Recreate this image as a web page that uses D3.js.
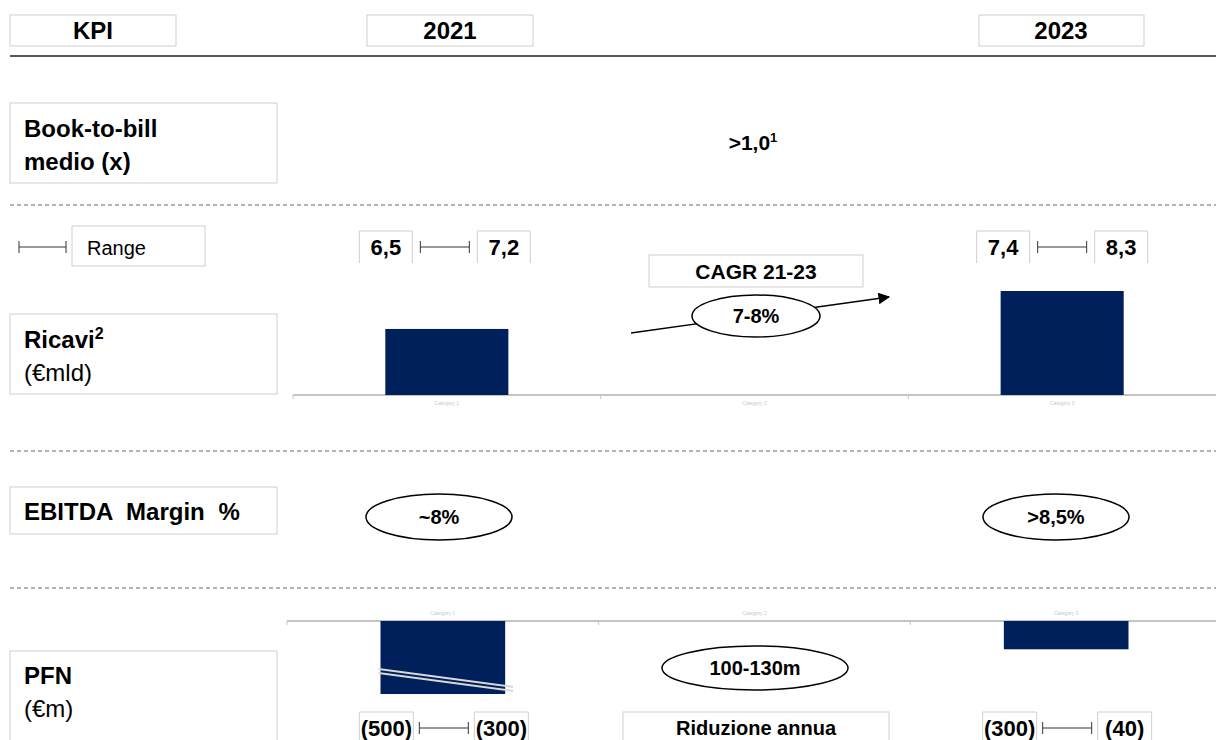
<!DOCTYPE html>
<html>
<head>
<meta charset="utf-8">
<script src="https://cdn.jsdelivr.net/npm/d3@7"></script>
<style>
  body { margin: 0; background: #fff; }
  svg { display: block; font-family: "Liberation Sans", Arial, sans-serif; }
</style>
</head>
<body>
<div id="chart"></div>
<script>
// KPI table 2021 -> 2023

// data
var years = ['2021', '2023'];
var kpiLabels = ['Book-to-bill', 'medio (x)', 'Ricavi', '(€mld)', 'EBITDA Margin %', 'PFN', '(€m)'];
var bookToBill = '>1,0';
var categories = ['Category 1', 'Category 2', 'Category 3'];
var revenueValues = [6.85, null, 7.85];
var revenueRanges = [['6,5', '7,2'], ['7,4', '8,3']];
var cagrLabel = 'CAGR 21-23';
var cagrValue = '7-8%';
var ebitdaValues = ['~8%', '>8,5%'];
var pfnValues = [-400, null, -155];
var pfnRanges = [['(500)', '(300)'], ['(300)', '(40)']];
var pfnReduction = '100-130m';
var pfnReductionLabel = 'Riduzione annua';

var width = 1216, height = 740;
var navy = '#00205b';
var boxStroke = '#cfcfcf';

var svg = d3.select('#chart').append('svg')
  .attr('width', width)
  .attr('height', height);

// helpers
function box(x, y, w, h, openBottom) {
  if (openBottom) {
    svg.append('path')
      .attr('d', 'M' + x + ',' + (y + h) + 'V' + y + 'H' + (x + w) + 'V' + (y + h))
      .attr('fill', '#fff').attr('stroke', boxStroke);
  } else {
    svg.append('rect')
      .attr('x', x).attr('y', y).attr('width', w).attr('height', h)
      .attr('fill', '#fff').attr('stroke', boxStroke);
  }
}
function label(x, y, t, size, weight, anchor) {
  return svg.append('text')
    .attr('x', x).attr('y', y)
    .attr('font-size', size)
    .attr('font-weight', weight || 'bold')
    .attr('text-anchor', anchor || 'middle')
    .attr('fill', '#000')
    .text(t);
}
function rangeBar(x1, x2, y) {
  svg.append('path')
    .attr('d', 'M' + x1 + ',' + y + 'H' + x2 + 'M' + x1 + ',' + (y - 6) + 'V' + (y + 6) + 'M' + x2 + ',' + (y - 6) + 'V' + (y + 6))
    .attr('stroke', '#333').attr('stroke-width', 1).attr('fill', 'none');
}
function oval(cx, cy, rx, ry, t) {
  svg.append('ellipse')
    .attr('cx', cx).attr('cy', cy).attr('rx', rx).attr('ry', ry)
    .attr('fill', '#fff').attr('stroke', '#000').attr('stroke-width', 1.5);
  label(cx, cy + 7, t, 20);
}

// header
box(10, 15, 166, 31);
label(93, 39, 'KPI', 24);
box(367, 15, 166, 31);
label(450, 39, years[0], 24);
box(979, 15, 165, 31);
label(1061, 39, years[1], 24);
svg.append('line').attr('x1', 10).attr('x2', width).attr('y1', 56).attr('y2', 56)
  .attr('stroke', '#222').attr('stroke-width', 1.3);

// separators
[205, 451, 588].forEach(function(y) {
  svg.append('line').attr('x1', 10).attr('x2', width).attr('y1', y).attr('y2', y)
    .attr('stroke', '#666').attr('stroke-dasharray', '4,3');
});

// row labels
box(10, 103, 267, 80);
label(24, 137, kpiLabels[0], 24, 'bold', 'start');
label(24, 170, kpiLabels[1], 24, 'bold', 'start');

box(10, 314, 267, 80);
var ric = label(24, 348, kpiLabels[2], 24, 'bold', 'start');
ric.append('tspan').attr('font-size', 16).attr('dy', -9).text('2');
label(24, 381, kpiLabels[3], 24, 'normal', 'start');

box(10, 487, 267, 47);
label(24, 520, kpiLabels[4], 24, 'bold', 'start').attr('word-spacing', 7);

box(10, 651, 267, 100);
label(24, 684, kpiLabels[5], 24, 'bold', 'start');
label(24, 717, kpiLabels[6], 24, 'normal', 'start');

// book-to-bill
var b2b = label(753, 150, bookToBill, 21);
b2b.append('tspan').attr('font-size', 13).attr('dy', -8).text('1');

// range legend
rangeBar(19, 66, 247);
box(72, 226, 133, 40);
label(87, 255, 'Range', 20, 'normal', 'start');

// revenue chart
var xRev = d3.scaleBand().domain(categories).range([293, width]).paddingInner(0.6).paddingOuter(0.3);
var yRev = d3.scaleLinear().domain([5.11, 7.85]).range([395, 291]);

svg.append('line').attr('x1', 293).attr('x2', width).attr('y1', 395).attr('y2', 395)
  .attr('stroke', '#c4c4c4').attr('stroke-width', 2);
xRev.domain().forEach(function(c, i) {
  var tx = 293 + i * xRev.step();
  svg.append('line').attr('x1', tx).attr('x2', tx).attr('y1', 395).attr('y2', 399).attr('stroke', '#c4c4c4');
});
svg.selectAll('.revLabel').data(categories).enter().append('text')
  .attr('class', 'revLabel')
  .attr('x', function(d) { return xRev(d) + xRev.bandwidth() / 2; })
  .attr('y', 405).attr('text-anchor', 'middle').attr('font-size', 5).attr('fill', '#c8c8c8')
  .text(function(d) { return d; });

svg.selectAll('.revBar')
  .data(categories.map(function(c, i) { return { c: c, v: revenueValues[i] }; }).filter(function(d) { return d.v != null; }))
  .enter().append('rect')
  .attr('class', 'revBar')
  .attr('x', function(d) { return xRev(d.c); })
  .attr('width', xRev.bandwidth())
  .attr('y', function(d) { return yRev(d.v); })
  .attr('height', function(d) { return 395 - yRev(d.v); })
  .attr('fill', navy);

// revenue ranges
var colCenters = [xRev(categories[0]) + xRev.bandwidth() / 2 - 2, xRev(categories[2]) + xRev.bandwidth() / 2];
function rangeRow(center, vals, y, wBox, gap, size) {
  var barW = 49;
  var lx = center - barW / 2 - gap - wBox;
  var rx = center + barW / 2 + gap;
  box(lx, y, wBox, 32, true);
  box(rx, y, wBox, 32, true);
  label(lx + wBox / 2, y + 24, vals[0], size);
  label(rx + wBox / 2, y + 24, vals[1], size);
  rangeBar(center - barW / 2, center + barW / 2, y + 16);
}
rangeRow(colCenters[0], revenueRanges[0], 231, 53, 8, 22);
rangeRow(colCenters[1], revenueRanges[1], 231, 53, 8, 22);

// CAGR
box(649, 255, 214, 32);
label(756, 279, cagrLabel, 21);
svg.append('defs').append('marker')
  .attr('id', 'arrow').attr('viewBox', '0 0 10 10').attr('refX', 9).attr('refY', 5)
  .attr('markerWidth', 9).attr('markerHeight', 9).attr('orient', 'auto')
  .append('path').attr('d', 'M0,0L10,5L0,10Z').attr('fill', '#000');
svg.append('line').attr('x1', 631).attr('y1', 333).attr('x2', 889).attr('y2', 297)
  .attr('stroke', '#000').attr('stroke-width', 1.3).attr('marker-end', 'url(#arrow)');
oval(756, 316, 64, 21, cagrValue);

// EBITDA
oval(439, 517, 73, 23, ebitdaValues[0]);
oval(1056, 517, 73, 23, ebitdaValues[1]);

// PFN chart
var xPfn = d3.scaleBand().domain(categories).range([287, 1222]).paddingInner(0.6).paddingOuter(0.3);
var yPfn = d3.scaleLinear().domain([0, -400]).range([621, 694]);

svg.append('line').attr('x1', 287).attr('x2', width).attr('y1', 621).attr('y2', 621)
  .attr('stroke', '#c4c4c4').attr('stroke-width', 2);
xPfn.domain().forEach(function(c, i) {
  var tx = 287 + i * xPfn.step();
  svg.append('line').attr('x1', tx).attr('x2', tx).attr('y1', 621).attr('y2', 625).attr('stroke', '#c4c4c4');
});
svg.selectAll('.pfnLabel').data(categories).enter().append('text')
  .attr('class', 'pfnLabel')
  .attr('x', function(d) { return xPfn(d) + xPfn.bandwidth() / 2; })
  .attr('y', 615).attr('text-anchor', 'middle').attr('font-size', 5).attr('fill', '#c8c8c8')
  .text(function(d) { return d; });

var pfnData = categories.map(function(c, i) { return { c: c, v: pfnValues[i] }; }).filter(function(d) { return d.v != null; });
svg.selectAll('.pfnBar').data(pfnData).enter().append('rect')
  .attr('class', 'pfnBar')
  .attr('x', function(d) { return xPfn(d.c); })
  .attr('width', xPfn.bandwidth())
  .attr('y', yPfn(0))
  .attr('height', function(d) { return yPfn(d.v) - yPfn(0); })
  .attr('fill', navy);

// axis break on the first PFN bar
var bx0 = xPfn(categories[0]) - 2, bx1 = xPfn(categories[0]) + xPfn.bandwidth() + 8;
[[669, 687], [673, 691]].forEach(function(p) {
  svg.append('line').attr('x1', bx0).attr('y1', p[0]).attr('x2', bx1).attr('y2', p[1])
    .attr('stroke', '#d8d8d8').attr('stroke-width', 2);
});

oval(755, 668, 93, 22, pfnReduction);

// PFN ranges
var pfnCenters = [xPfn(categories[0]) + xPfn.bandwidth() / 2 + 1, xPfn(categories[2]) + xPfn.bandwidth() / 2 + 1];
rangeRow(pfnCenters[0], pfnRanges[0], 712, 54, 6, 22);
rangeRow(pfnCenters[1], pfnRanges[1], 712, 54, 6, 22);

box(623, 712, 266, 40);
label(756, 735, pfnReductionLabel, 20);
</script>
</body>
</html>
